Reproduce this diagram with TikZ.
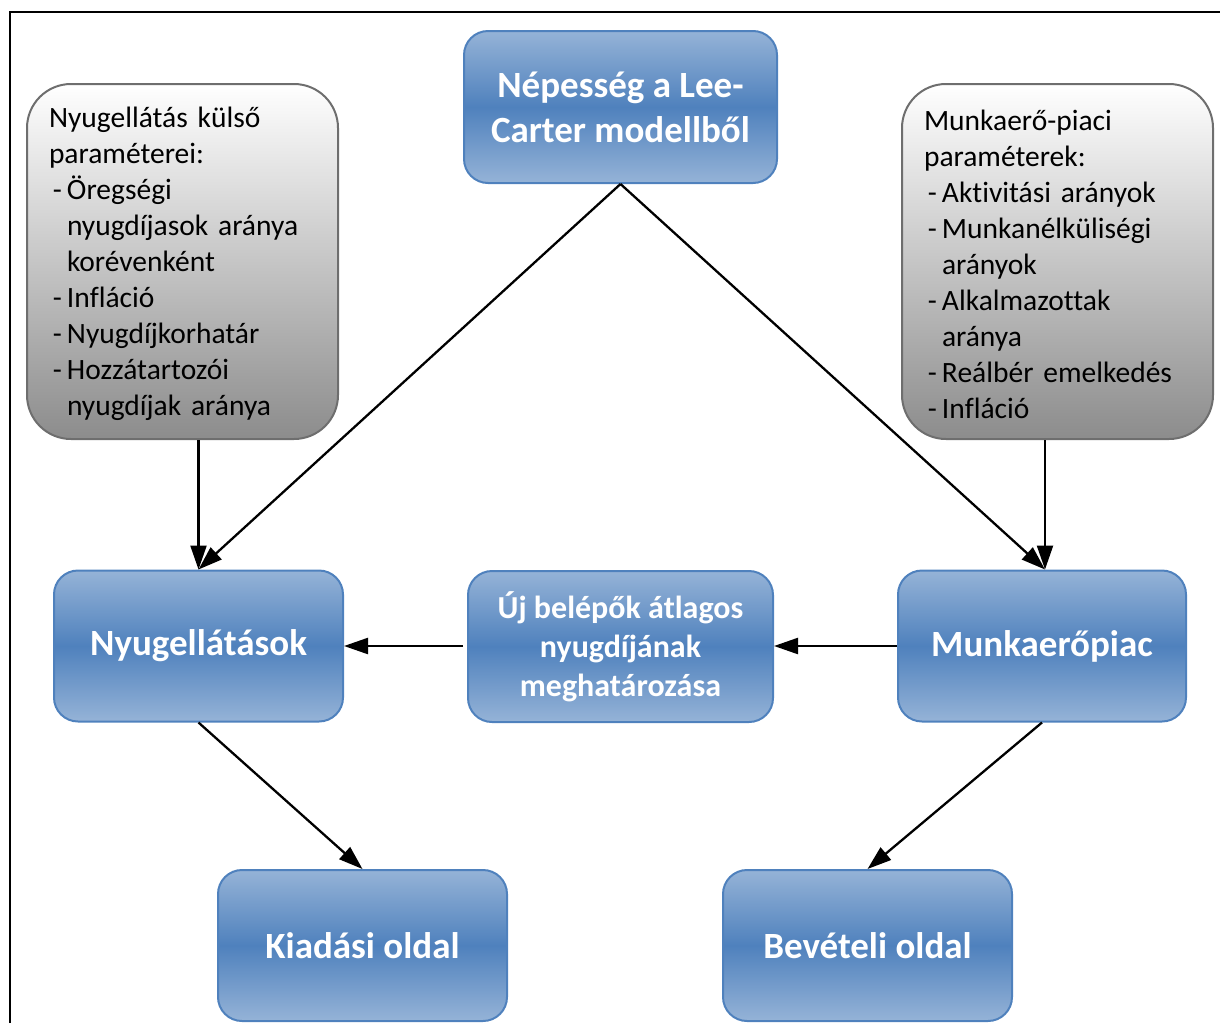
\documentclass[tikz,border=0pt]{standalone}
\usepackage{fontspec}
\setmainfont{Carlito}[Ligatures={TeX,NoCommon}]
\usetikzlibrary{arrows.meta}
\definecolor{bluemain}{RGB}{79,129,189}
\definecolor{bluelight}{RGB}{149,179,215}
\definecolor{greyborder}{RGB}{110,110,110}
\definecolor{greydark}{RGB}{140,140,140}
\newcommand{\itm}{\makebox[18pt][r]{-\hspace{5pt}}}
\newcommand{\cnt}{\hspace*{18pt}}
\tikzset{
  bluebox/.style={draw=bluemain, line width=2pt, rounded corners=24pt,
    top color=bluelight, bottom color=bluelight, middle color=bluemain,
    text=white, align=center, inner sep=0pt,
    font={\bfseries\fontsize{37}{45}\selectfont}},
  greybox/.style={draw=greyborder, line width=2pt, rounded corners=44pt,
    top color=white, bottom color=greydark, align=left, inner sep=0pt,
    text width=267pt, minimum width=311pt, minimum height=355pt,
    font={\fontsize{29.5}{36}\selectfont}},
  arr/.style={line width=2.3pt, -{Triangle[length=24pt,width=16pt]}},
  frameline/.style={line width=2.5pt}
}
\begin{document}
\begin{tikzpicture}[x=1pt,y=-1pt]
\useasboundingbox (0,0) rectangle (1220,1023);
\coordinate (fl) at (10,1023);
\coordinate (ftl) at (10,12);
\coordinate (fr) at (1220,12);
\draw[frameline] (fl) -- (ftl) -- (fr);

\node[bluebox, minimum width=313pt, minimum height=152pt] (nep) at (620.5,107) {Népesség a Lee-\\Carter modellből};
\node[greybox] (gl) at (182.5,261.5) {\rule{0pt}{26pt}Nyugellátás külső\\paraméterei:\\\itm Öregségi\\\cnt nyugdíjasok aránya\\\cnt korévenként\\\itm Infláció\\\itm Nyugdíjkorhatár\\\itm Hozzátartozói\\\cnt nyugdíjak aránya};
\node[greybox] (gr) at (1057.5,261.5) {\rule{0pt}{26pt}Munkaerő-piaci\\paraméterek:\\\itm Aktivitási arányok\\\itm Munkanélküliségi\\\cnt arányok\\\itm Alkalmazottak\\\cnt aránya\\\itm Reálbér emelkedés\\\itm Infláció};

\node[bluebox, minimum width=289pt, minimum height=151pt] (nyu) at (198.5,646) {Nyugellátások};
\node[bluebox, minimum width=305pt, minimum height=151pt, font={\bfseries\fontsize{32}{39}\selectfont}] (uj) at (620.5,646.5) {Új belépők átlagos\\nyugdíjának\\meghatározása};
\node[bluebox, minimum width=288pt, minimum height=151pt] (mun) at (1042,646) {Munkaerőpiac};
\node[bluebox, minimum width=289pt, minimum height=151pt] (kia) at (362.5,945.5) {Kiadási oldal};
\node[bluebox, minimum width=289pt, minimum height=151pt] (bev) at (867.5,945.5) {Bevételi oldal};

\draw[arr] (nep.south) -- (nyu.north);
\draw[arr] (nep.south) -- ([xshift=3pt]mun.north);
\draw[arr] (gl.south -| nyu.north) -- (nyu.north);
\draw[arr] ([xshift=3pt]gr.south -| mun.north) -- ([xshift=3pt]mun.north);
\draw[arr] (mun.west) -- (uj.east |- mun.west);
\draw[arr] ([xshift=-4pt]uj.west |- nyu.east) -- (nyu.east);
\draw[arr] (nyu.south) -- (kia.north);
\draw[arr] (mun.south) -- (bev.north);
\end{tikzpicture}
\end{document}
